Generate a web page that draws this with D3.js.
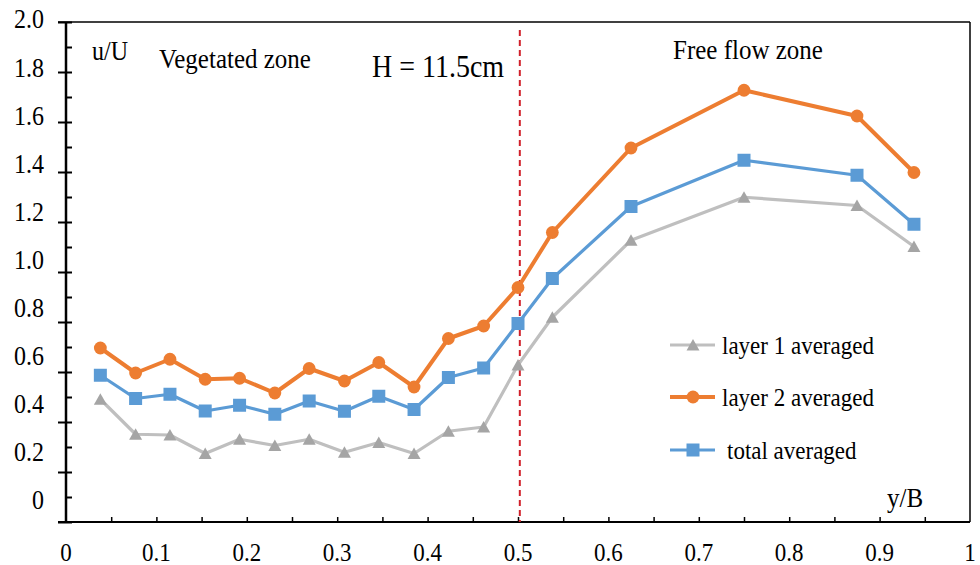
<!DOCTYPE html>
<html>
<head>
<meta charset="utf-8">
<script src="https://cdn.jsdelivr.net/npm/d3@7/dist/d3.min.js"></script>
<style>
  body { margin: 0; background: #fff; }
</style>
</head>
<body>
<div id="chart"></div>
<script>
// données
var yB = [0.038, 0.077, 0.115, 0.154, 0.192, 0.231, 0.269, 0.308, 0.346, 0.385, 0.423, 0.462, 0.5, 0.538, 0.625, 0.75, 0.875, 0.938];
var layer1 = [0.491, 0.351, 0.348, 0.274, 0.331, 0.306, 0.331, 0.279, 0.318, 0.274, 0.363, 0.380, 0.628, 0.819, 1.127, 1.299, 1.266, 1.102];
var layer2 = [0.696, 0.596, 0.651, 0.571, 0.575, 0.516, 0.614, 0.564, 0.638, 0.540, 0.734, 0.784, 0.938, 1.158, 1.496, 1.727, 1.624, 1.398];
var total  = [0.587, 0.494, 0.511, 0.444, 0.467, 0.431, 0.484, 0.443, 0.503, 0.450, 0.578, 0.616, 0.794, 0.974, 1.262, 1.447, 1.387, 1.191];
var seriesNames = ["layer 1 averaged", "layer 2 averaged", "total averaged"];
var xTickLabels = ["0", "0.1", "0.2", "0.3", "0.4", "0.5", "0.6", "0.7", "0.8", "0.9", "1"];
var yTickLabels = ["0", "0.2", "0.4", "0.6", "0.8", "1.0", "1.2", "1.4", "1.6", "1.8", "2.0"];
var boundary = 0.502;

var serif = "'Liberation Serif', 'Times New Roman', Times, serif";

var totalWidth = 980, totalHeight = 565,
    margin = {top: 22, right: 10, bottom: 43, left: 66},
    width = totalWidth - margin.left - margin.right,
    height = totalHeight - margin.top - margin.bottom;

// échelles
var x = d3.scaleLinear().domain([0, 1]).range([0, width]);
var y = d3.scaleLinear().domain([0, 2]).range([height, 0]);
// les étiquettes de l'axe y sont posées un peu plus serrées que les graduations
var yLab = d3.scaleLinear().domain([0, 2]).range([478, -3]);

var svg = d3.select("#chart").append("svg")
    .attr("width", totalWidth)
    .attr("height", totalHeight)
    .attr("font-family", serif)
    .append("g")
        .attr("transform", "translate(" + margin.left + "," + margin.top + ")");

// l'image d'origine est un peu étirée en hauteur : on étire le texte pareil
function label(px, py, size, txt) {
    return svg.append("text")
        .attr("transform", "translate(" + px + "," + py + ") scale(1,1.12)")
        .attr("font-family", serif)
        .attr("font-size", size)
        .attr("fill", "#000")
        .text(txt);
}

// graduations de l'axe x (vers l'intérieur)
var xAxis = svg.append("g")
    .call(d3.axisTop(x).tickValues(d3.range(1, 20).map(function(i) { return i * 0.05; })).tickSize(5).tickFormat(""));
xAxis.attr("transform", "translate(0," + height + ")");
xAxis.select(".domain").remove();
xAxis.selectAll("line").attr("stroke", "#000").attr("stroke-width", 1.5);

// étiquettes de l'axe x
xTickLabels.forEach(function(d) {
    label(x(+d), height + 39, 23, d).attr("text-anchor", "middle");
});

// graduations de l'axe y : majeures qui traversent, mineures à droite
var yMajor = svg.append("g")
    .call(d3.axisLeft(y).tickValues(d3.range(0, 11).map(function(i) { return i * 0.2; })).tickSize(8).tickFormat(""));
yMajor.select(".domain").remove();
yMajor.selectAll("line").attr("stroke", "#000").attr("stroke-width", 2).attr("x2", -8).attr("x1", 6);
var yMinor = svg.append("g")
    .call(d3.axisRight(y).tickValues(d3.range(0, 10).map(function(i) { return i * 0.2 + 0.1; })).tickSize(6).tickFormat(""));
yMinor.select(".domain").remove();
yMinor.selectAll("line").attr("stroke", "#000").attr("stroke-width", 2);

// étiquettes de l'axe y
yTickLabels.forEach(function(d) {
    label(-22, yLab(+d), 24, d).attr("dy", "0.35em").attr("text-anchor", "end");
});

// cadre
svg.append("line").attr("x1", -8).attr("x2", width).attr("y1", height).attr("y2", height)
    .attr("stroke", "#000").attr("stroke-width", 2);
svg.append("line").attr("x1", 0).attr("x2", 0).attr("y1", 0).attr("y2", height)
    .attr("stroke", "#000").attr("stroke-width", 2.5);
svg.append("line").attr("x1", -8).attr("x2", width).attr("y1", 0).attr("y2", 0)
    .attr("stroke", "#000").attr("stroke-width", 1.5);
svg.append("line").attr("x1", width).attr("x2", width).attr("y1", 0).attr("y2", height)
    .attr("stroke", "#000").attr("stroke-width", 1.5);

// ligne de séparation
svg.append("line")
    .attr("x1", x(boundary)).attr("x2", x(boundary))
    .attr("y1", 8).attr("y2", height)
    .attr("stroke", "#d0202a")
    .attr("stroke-width", 2)
    .attr("stroke-dasharray", "6,4");

// séries
var series = [
    {name: seriesNames[0], values: layer1, line: "#bfbfbf", fill: "#a5a5a5", width: 3.2, shape: "triangle"},
    {name: seriesNames[2], values: total, line: "#5b9bd5", fill: "#5b9bd5", width: 3.2, shape: "square"},
    {name: seriesNames[1], values: layer2, line: "#ed7d31", fill: "#ed7d31", width: 4, shape: "circle"}
];

var line = d3.line()
    .x(function(d) { return x(d[0]); })
    .y(function(d) { return y(d[1]); });

function marker(g, shape, fill) {
    if (shape === "circle") {
        g.append("circle").attr("r", 6.4).attr("fill", fill);
    } else if (shape === "square") {
        g.append("rect").attr("x", -6.5).attr("y", -6.5).attr("width", 13).attr("height", 13).attr("fill", fill);
    } else {
        g.append("path").attr("d", "M0,-6L6.5,5.5L-6.5,5.5Z").attr("fill", fill);
    }
}

series.forEach(function(s) {
    var pts = yB.map(function(v, i) { return [v, s.values[i]]; });
    svg.append("path")
        .datum(pts)
        .attr("fill", "none")
        .attr("stroke", s.line)
        .attr("stroke-width", s.width)
        .attr("stroke-linejoin", "round")
        .attr("d", line);
    pts.forEach(function(p) {
        var g = svg.append("g").attr("transform", "translate(" + x(p[0]) + "," + y(p[1]) + ")");
        marker(g, s.shape, s.fill);
    });
});

// textes
label(26, 38, 24, "u/U");
label(93, 46, 25, "Vegetated zone");
label(306, 55, 28, "H = 11.5cm");
label(607, 37, 25, "Free flow zone");
label(821, 485, 25, "y/B");

// légende
var legendOrder = [
    {s: series[0], y: 323, tx: 656},
    {s: series[2], y: 375, tx: 656},
    {s: series[1], y: 428, tx: 661}
];
legendOrder.forEach(function(l) {
    var g = svg.append("g").attr("transform", "translate(604," + l.y + ")");
    g.append("line").attr("x1", 0).attr("x2", 45).attr("y1", 0).attr("y2", 0)
        .attr("stroke", l.s.line).attr("stroke-width", l.s.width);
    var m = g.append("g").attr("transform", "translate(23,0)");
    marker(m, l.s.shape, l.s.fill);
    label(l.tx, l.y, 23, l.s.name).attr("dy", "0.33em");
});
</script>
</body>
</html>
